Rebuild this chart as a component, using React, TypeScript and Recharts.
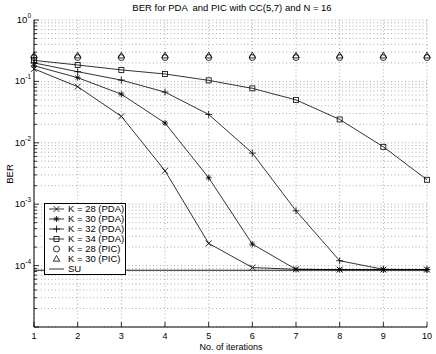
import React from "react";
import { LineChart, Line, XAxis, YAxis, CartesianGrid, ReferenceLine } from "recharts";

// iterations on the x axis
const iterations = [1, 2, 3, 4, 5, 6, 7, 8, 9, 10];

// BER values
const k28Pda = [0.16, 0.082, 0.027, 0.0035, 0.00023, 0.000093, 0.000087, 0.000086, 0.000086, 0.000086];
const k30Pda = [0.18, 0.115, 0.062, 0.021, 0.0027, 0.000224, 0.000087, 0.000086, 0.000086, 0.000086];
const k32Pda = [0.2, 0.144, 0.105, 0.067, 0.029, 0.0068, 0.00078, 0.00012, 0.000087, 0.000086];
const k34Pda = [0.22, 0.185, 0.154, 0.132, 0.104, 0.077, 0.05, 0.024, 0.0086, 0.0025];
const k28Pic = [0.245, 0.245, 0.245, 0.245, 0.245, 0.245, 0.245, 0.245, 0.245, 0.245];
const k30Pic = [0.262, 0.262, 0.262, 0.262, 0.262, 0.262, 0.262, 0.262, 0.262, 0.262];
const suLevel = 0.000084;

const decadeExps = [0, -1, -2, -3, -4, -5];
const mantissas = [1, 2, 3, 4, 5, 6, 7, 8, 9];
const yTicks = decadeExps
  .slice(1)
  .flatMap((e) => mantissas.map((m) => m * Math.pow(10, e)))
  .concat([1]);

const data = iterations.map((it, i) => ({
  it,
  k28: k28Pda[i],
  k30: k30Pda[i],
  k32: k32Pda[i],
  k34: k34Pda[i],
  p28: k28Pic[i],
  p30: k30Pic[i],
}));

const FONT = "'Liberation Sans', Arial, sans-serif";

type Kind = "x" | "star" | "plus" | "square" | "circle" | "triangle";

const Marker = ({ cx, cy, kind }: { cx: number; cy: number; kind: Kind }) => {
  const s = 3;
  const st = { stroke: "#000", strokeWidth: 0.8, fill: "none" };
  if (kind === "x")
    return (
      <g {...st}>
        <line x1={cx - s} y1={cy - s} x2={cx + s} y2={cy + s} />
        <line x1={cx - s} y1={cy + s} x2={cx + s} y2={cy - s} />
      </g>
    );
  if (kind === "plus")
    return (
      <g {...st}>
        <line x1={cx - s - 0.5} y1={cy} x2={cx + s + 0.5} y2={cy} />
        <line x1={cx} y1={cy - s - 0.5} x2={cx} y2={cy + s + 0.5} />
      </g>
    );
  if (kind === "star")
    return (
      <g {...st}>
        <line x1={cx - s} y1={cy} x2={cx + s} y2={cy} />
        <line x1={cx} y1={cy - s} x2={cx} y2={cy + s} />
        <line x1={cx - 2.2} y1={cy - 2.2} x2={cx + 2.2} y2={cy + 2.2} />
        <line x1={cx - 2.2} y1={cy + 2.2} x2={cx + 2.2} y2={cy - 2.2} />
      </g>
    );
  if (kind === "square") return <rect x={cx - 2.5} y={cy - 2.5} width={5} height={5} {...st} />;
  if (kind === "circle") return <circle cx={cx} cy={cy} r={3} {...st} />;
  return <polygon points={`${cx},${cy - 3.5} ${cx + 3.2},${cy + 2.2} ${cx - 3.2},${cy + 2.2}`} {...st} />;
};

const dotFor = (kind: Kind) => (p: any) =>
  p.cx == null ? <g key={p.index} /> : <Marker key={p.index} cx={p.cx} cy={p.cy} kind={kind} />;

const isDecade = (v: number) => Math.abs(Math.log10(v) - Math.round(Math.log10(v))) < 1e-6;

const LeftTick = (props: any) => {
  const { x, y, payload } = props;
  const v = payload.value;
  const major = isDecade(v);
  const e = Math.round(Math.log10(v));
  return (
    <g>
      <line x1={x} y1={y} x2={x + (major ? 5 : 3)} y2={y} stroke="#000" strokeWidth={0.8} />
      {major && e > -5 && (
        <text x={x - 3} y={y + 3} textAnchor="end" fontSize={9.5} fontFamily={FONT} fill="#000">
          <tspan>10</tspan>
          <tspan dy={-5} fontSize={6.5}>{String(e)}</tspan>
        </text>
      )}
    </g>
  );
};

const RightTick = (props: any) => {
  const { x, y, payload } = props;
  const major = isDecade(payload.value);
  return <line x1={x} y1={y} x2={x - (major ? 5 : 3)} y2={y} stroke="#000" strokeWidth={0.8} />;
};

const BottomTick = (props: any) => {
  const { x, y, payload } = props;
  return (
    <g>
      <line x1={x} y1={y} x2={x} y2={y - 5} stroke="#000" strokeWidth={0.8} />
      <text x={x} y={y + 12} textAnchor="middle" fontSize={9} fontFamily={FONT} fill="#000">
        {payload.value}
      </text>
    </g>
  );
};

const TopTick = (props: any) => {
  const { x, y } = props;
  return <line x1={x} y1={y} x2={x} y2={y + 5} stroke="#000" strokeWidth={0.8} />;
};

const legendItems: { label: string; kind: Kind | null }[] = [
  { label: "K = 28 (PDA)", kind: "x" },
  { label: "K = 30 (PDA)", kind: "star" },
  { label: "K = 32 (PDA)", kind: "plus" },
  { label: "K = 34 (PDA)", kind: "square" },
  { label: "K = 28 (PIC)", kind: "circle" },
  { label: "K = 30 (PIC)", kind: "triangle" },
  { label: "SU", kind: null },
];

const PIC = new Set(["circle", "triangle"]);

const LegendBox = () => (
  <svg
    width={82}
    height={72}
    style={{ position: "absolute", left: 44, top: 203 }}
  >
    <rect x={0.5} y={0.5} width={81} height={71} fill="#fff" stroke="#000" strokeWidth={1} />
    {legendItems.map((item, i) => {
      const cy = 6 + i * 10;
      return (
        <g key={item.label}>
          {item.kind === null || !PIC.has(item.kind) ? (
            <line x1={5} y1={cy} x2={20} y2={cy} stroke="#000" strokeWidth={0.8} />
          ) : null}
          {item.kind && <Marker cx={12.5} cy={cy} kind={item.kind} />}
          <text x={24} y={cy + 3.3} fontSize={9.5} fontFamily={FONT} fill="#000">
            {item.label}
          </text>
        </g>
      );
    })}
  </svg>
);

export default function App() {
  return (
    <div style={{ position: "absolute", left: 0, top: 0, width: 436, height: 354, background: "#fff", fontFamily: FONT }}>
      <LineChart width={436} height={354} data={data} margin={{ top: 20, right: 9, bottom: 7, left: 4 }}>
        <CartesianGrid stroke="#999" strokeDasharray="1 2.5" strokeWidth={0.8} />
        <XAxis
          dataKey="it"
          type="number"
          domain={[1, 10]}
          ticks={iterations}
          interval={0}
          height={20}
          tickSize={0}
          tickMargin={0}
          tick={<BottomTick />}
          stroke="#000"
        />
        <XAxis
          xAxisId="top"
          orientation="top"
          dataKey="it"
          type="number"
          domain={[1, 10]}
          ticks={iterations}
          interval={0}
          height={0}
          tickSize={0}
          tickMargin={0}
          tick={<TopTick />}
          stroke="#000"
        />
        <YAxis
          scale="log"
          type="number"
          domain={[1e-5, 1]}
          allowDataOverflow
          ticks={yTicks}
          interval={0}
          width={30}
          tickSize={0}
          tickMargin={0}
          tick={<LeftTick />}
          stroke="#000"
        />
        <YAxis
          yAxisId="right"
          orientation="right"
          scale="log"
          type="number"
          domain={[1e-5, 1]}
          allowDataOverflow
          ticks={yTicks}
          interval={0}
          width={0}
          tickSize={0}
          tickMargin={0}
          tick={<RightTick />}
          stroke="#000"
        />
        <ReferenceLine y={suLevel} stroke="#000" strokeWidth={0.9} />
        <Line dataKey="k28" stroke="#000" strokeWidth={0.8} dot={dotFor("x")} isAnimationActive={false} />
        <Line dataKey="k30" stroke="#000" strokeWidth={0.8} dot={dotFor("star")} isAnimationActive={false} />
        <Line dataKey="k32" stroke="#000" strokeWidth={0.8} dot={dotFor("plus")} isAnimationActive={false} />
        <Line dataKey="k34" stroke="#000" strokeWidth={0.8} dot={dotFor("square")} isAnimationActive={false} />
        <Line dataKey="p28" stroke="transparent" strokeWidth={0} dot={dotFor("circle")} isAnimationActive={false} />
        <Line dataKey="p30" stroke="transparent" strokeWidth={0} dot={dotFor("triangle")} isAnimationActive={false} />
      </LineChart>
      <div
        style={{ position: "absolute", left: 0, top: 2, width: 464, textAlign: "center", fontSize: 9.5, whiteSpace: "pre", color: "#000" }}
      >
        BER for PDA  and PIC with CC(5,7) and N = 16
      </div>
      <div
        style={{ position: "absolute", left: 0, top: 342, width: 462, textAlign: "center", fontSize: 9, lineHeight: "11px", color: "#000" }}
      >
        No. of iterations
      </div>
      <div
        style={{
          position: "absolute",
          left: 9,
          top: 174,
          transform: "translate(-50%, -50%) rotate(-90deg)",
          fontSize: 9.5,
          color: "#000",
        }}
      >
        BER
      </div>
      <LegendBox />
    </div>
  );
}
